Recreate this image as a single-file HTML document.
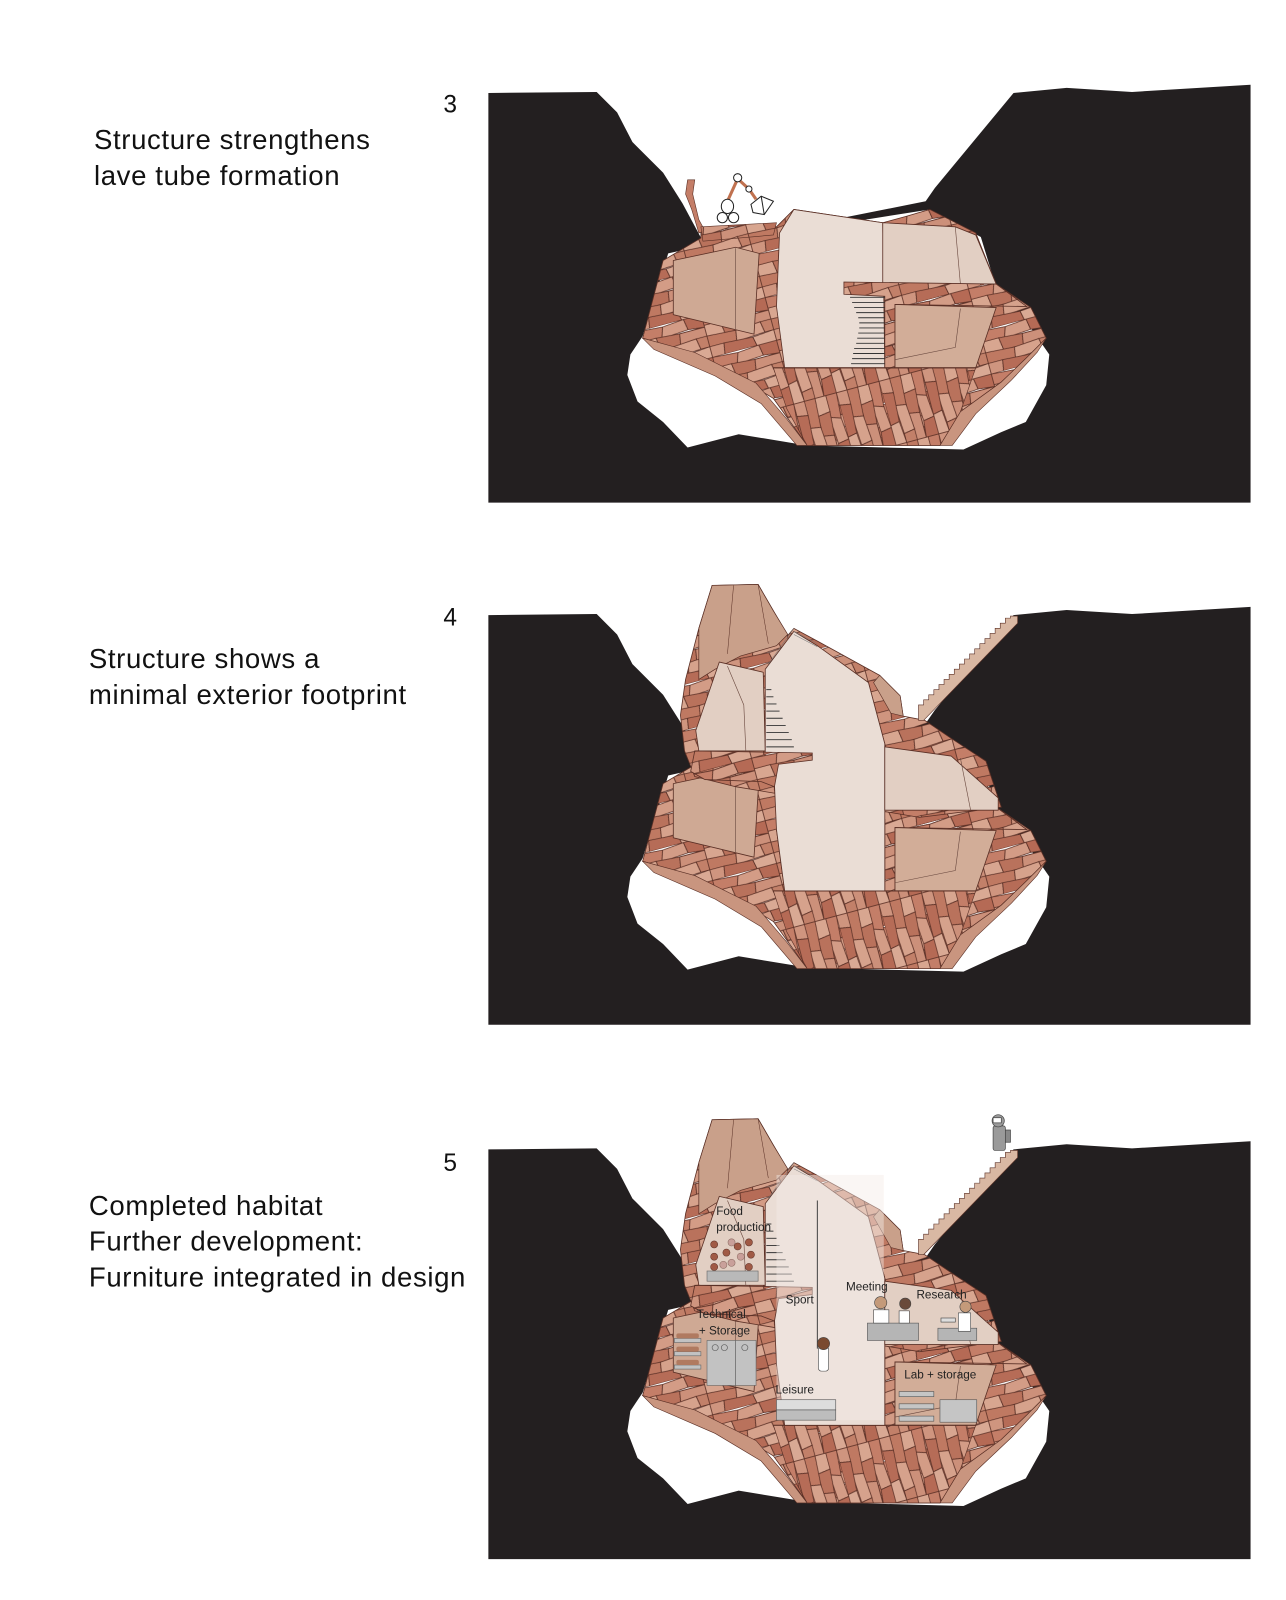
<!DOCTYPE html>
<html><head><meta charset="utf-8"><style>
html,body{margin:0;padding:0;background:#fff;}
svg{display:block;}
.t{font-family:"Liberation Sans",sans-serif;font-size:27px;letter-spacing:0.6px;fill:#111;}
.n{font-family:"Liberation Sans",sans-serif;font-size:24px;fill:#111;}
.l{font-family:"Liberation Sans",sans-serif;font-size:11.5px;fill:#222;}
</style></head><body>
<svg width="1286" height="1600" viewBox="0 0 1286 1600" xmlns="http://www.w3.org/2000/svg">
<defs>
<pattern id="st" width="36" height="24" patternUnits="userSpaceOnUse" patternTransform="rotate(-15) scale(1.8)">
<g stroke="#5b3026" stroke-width="0.45">
<polygon points="0,0 14,1 12,7 0,6" fill="#c47e68"/>
<polygon points="14,1 26,0 27,6 12,7" fill="#d39c86"/>
<polygon points="26,0 36,0 36,7 27,6" fill="#b56a55"/>
<polygon points="0,6 9,6 10,13 0,12" fill="#d8a690"/>
<polygon points="9,6 22,7 21,13 10,13" fill="#b9725c"/>
<polygon points="22,7 36,7 36,12 21,13" fill="#cc907a"/>
<polygon points="0,12 16,13 15,19 0,18" fill="#bf7962"/>
<polygon points="16,13 30,12 31,18 15,19" fill="#d6a28c"/>
<polygon points="30,12 36,12 36,18 31,18" fill="#c28069"/>
<polygon points="0,18 8,18 7,24 0,24" fill="#cf957f"/>
<polygon points="8,18 24,19 25,24 7,24" fill="#b66c57"/>
<polygon points="24,19 36,18 36,24 25,24" fill="#d9a994"/>
</g></pattern>
<pattern id="st3" width="36" height="24" patternUnits="userSpaceOnUse" patternTransform="rotate(75) scale(1.8)">
<g stroke="#5b3026" stroke-width="0.45">
<polygon points="0,0 14,1 12,7 0,6" fill="#c47e68"/>
<polygon points="14,1 26,0 27,6 12,7" fill="#d39c86"/>
<polygon points="26,0 36,0 36,7 27,6" fill="#b56a55"/>
<polygon points="0,6 9,6 10,13 0,12" fill="#d8a690"/>
<polygon points="9,6 22,7 21,13 10,13" fill="#b9725c"/>
<polygon points="22,7 36,7 36,12 21,13" fill="#cc907a"/>
<polygon points="0,12 16,13 15,19 0,18" fill="#bf7962"/>
<polygon points="16,13 30,12 31,18 15,19" fill="#d6a28c"/>
<polygon points="30,12 36,12 36,18 31,18" fill="#c28069"/>
<polygon points="0,18 8,18 7,24 0,24" fill="#cf957f"/>
<polygon points="8,18 24,19 25,24 7,24" fill="#b66c57"/>
<polygon points="24,19 36,18 36,24 25,24" fill="#d9a994"/>
</g></pattern>

<g id="ground">
<polygon fill="#231f20" points="478,91 584,90 604,110 619,139 649,169 668,199 690,240 906,197 915,184 992,91 1044,86 1108,90 1224,83 1224,492 478,492"/>
<polygon fill="#fff" points="629,329 617,347 614,367 624,393 649,413 673,438 723,425 790,436 943,440 980,423 1004,413 1024,377 1027,347 1009,321 975,281 960,232 910,205 690,240 654,248"/>
</g>

<g id="lower">
<polygon fill="url(#st)" stroke="#5b3026" stroke-width="0.8" points="686,225 760,222 777,205 864,218 886,212 910,205 955,228 975,278 1009,301 1024,331 1005,350 980,374 940,403 920,436 790,436 757,390 708,360 660,340 629,331 649,255 686,233"/>
<polygon fill="#c9957f" stroke="#5b3026" stroke-width="0.6" points="629,331 680,345 740,375 770,410 790,436 780,436 745,395 700,368 640,342"/>
<polygon fill="#c9957f" stroke="#5b3026" stroke-width="0.6" points="1024,331 1005,350 980,374 940,403 920,436 932,436 955,405 990,372 1015,345"/>
<polygon fill="url(#st3)" stroke="#5b3026" stroke-width="0.6" points="757,360 955,360 940,403 920,436 790,436 770,400"/>
<polygon fill="#cfa994" stroke="#5b3026" stroke-width="0.8" points="659,255 720,242 743,248 738,327 659,308"/>
<line x1="720" y1="243" x2="720" y2="322" stroke="#6b4a40" stroke-width="0.6"/>
<polygon fill="#eaddd5" stroke="#5b3026" stroke-width="0.8" points="763,228 777,205 864,218 866,360 768,360 760,300"/>
<polygon fill="#e2cfc3" stroke="#5b3026" stroke-width="0.8" points="864,218 935,222 955,230 975,278 864,278"/>
<line x1="935" y1="222" x2="940" y2="278" stroke="#6b4a40" stroke-width="0.6"/>
<polygon fill="url(#st)" stroke="#5b3026" stroke-width="0.8" points="826,276 975,278 1005,300 876,298 876,360 866,360 866,290 826,288"/>
<polygon fill="#d2ad98" stroke="#5b3026" stroke-width="0.8" points="876,298 975,301 955,360 876,360"/>
<polyline fill="none" stroke="#6b4a40" stroke-width="0.6" points="876,352 935,340 940,302"/>
<g stroke="#333" stroke-width="0.9">
<line x1="832" y1="291" x2="866" y2="291"/><line x1="834" y1="296" x2="866" y2="296"/>
<line x1="836" y1="301" x2="866" y2="301"/><line x1="838" y1="306" x2="866" y2="306"/>
<line x1="840" y1="311" x2="866" y2="311"/><line x1="841" y1="316" x2="866" y2="316"/>
<line x1="841" y1="321" x2="866" y2="321"/><line x1="840" y1="326" x2="866" y2="326"/>
<line x1="839" y1="331" x2="866" y2="331"/><line x1="838" y1="336" x2="866" y2="336"/>
<line x1="836" y1="341" x2="866" y2="341"/><line x1="835" y1="346" x2="866" y2="346"/>
<line x1="834" y1="351" x2="866" y2="351"/><line x1="833" y1="356" x2="866" y2="356"/>
</g>
<line x1="757" y1="360" x2="955" y2="360" stroke="#5b3026" stroke-width="1"/>
</g>

<g id="upper">
<polygon fill="url(#st)" stroke="#5b3026" stroke-width="0.8" points="671,665 684,615 697,573 742,572 771,622 777,615 801,628 861,661 881,681 884,701 905,705 930,722 965,745 980,790 900,800 720,770 680,760 670,735 666,700"/>
<polygon fill="#c9a08a" stroke="#5b3026" stroke-width="0.7" points="684,615 697,573 742,572 757,598 771,621 760,632 725,642 700,655 684,665"/>
<line x1="718" y1="573" x2="712" y2="640" stroke="#5b3026" stroke-width="0.5"/>
<line x1="742" y1="572" x2="752" y2="630" stroke="#5b3026" stroke-width="0.5"/>
<polygon fill="#c9a08a" stroke="#5b3026" stroke-width="0.6" points="861,661 881,681 884,701 872,698 855,668"/>
<polygon fill="#e2cfc3" stroke="#5b3026" stroke-width="0.8" points="704,648 747,658 749,735 684,735 681,715"/>
<polyline fill="none" stroke="#6b4a40" stroke-width="0.6" points="712,652 728,690 730,735"/>
<polygon fill="#eaddd5" stroke="#5b3026" stroke-width="0.8" points="749,655 777,618 800,632 850,668 866,728 866,872 768,872 760,812 757,745 749,740"/>
<g stroke="#777" stroke-width="0.5"><line x1="777" y1="618" x2="800" y2="630"/><line x1="777" y1="621" x2="800" y2="633"/><line x1="777" y1="615" x2="752" y2="650"/></g>
<g stroke="#333" stroke-width="0.9">
<line x1="750" y1="675" x2="755" y2="675"/><line x1="750" y1="682" x2="757" y2="682"/>
<line x1="750" y1="689" x2="760" y2="689"/><line x1="750" y1="696" x2="763" y2="696"/>
<line x1="750" y1="703" x2="766" y2="703"/><line x1="750" y1="710" x2="769" y2="710"/>
<line x1="750" y1="717" x2="772" y2="717"/><line x1="750" y1="724" x2="775" y2="724"/>
<line x1="750" y1="731" x2="777" y2="731"/>
</g>
<polygon fill="url(#st)" stroke="#5b3026" stroke-width="0.8" points="680,735 795,737 795,744 762,748 758,770 745,765 690,763 676,755"/>
<polygon fill="#e2cfc3" stroke="#5b3026" stroke-width="0.8" points="866,731 931,740 977,781 977,793 866,793"/>
<line x1="940" y1="742" x2="950" y2="793" stroke="#6b4a40" stroke-width="0.6"/>
<g fill="#d9b8a3" stroke="#5b3026" stroke-width="0.6">
<path d="M899,695 L899,690 L904,690 L904,685 L909,685 L909,680 L914,680 L914,675 L919,675 L919,670 L924,670 L924,665 L929,665 L929,660 L934,660 L934,655 L939,655 L939,650 L944,650 L944,645 L949,645 L949,640 L954,640 L954,635 L959,635 L959,630 L964,630 L964,625 L969,625 L969,620 L974,620 L974,615 L979,615 L979,610 L984,610 L984,605 L989,605 L989,603 L996,603 L996,610 L904,705 L899,705 Z"/>
</g>
</g>
</defs>

<g transform="scale(1.0217)">
<use href="#ground"/>
<use href="#lower"/>
<g stroke="#5b3026" stroke-width="0.6">
<polygon fill="#c47e68" points="673,176 680,176 678,190 684,215 690,226 684,228 677,205 671,190"/>
<polygon fill="url(#st)" points="686,222 760,218 757,230 688,236"/>
</g>
<g stroke="#222" stroke-width="1" fill="#fff">
<line x1="712" y1="197" x2="722" y2="175" stroke="#c0714f" stroke-width="3"/>
<line x1="722" y1="175" x2="733" y2="185" stroke="#c0714f" stroke-width="3"/>
<line x1="733" y1="185" x2="740" y2="195" stroke="#c0714f" stroke-width="3"/>
<ellipse cx="712" cy="202" rx="6" ry="7"/>
<circle cx="707" cy="213" r="5"/><circle cx="718" cy="213" r="5"/>
<circle cx="722" cy="174" r="4"/><circle cx="733" cy="185" r="3"/>
<polygon points="735,200 745,192 757,197 748,210 737,208"/>
<line x1="745" y1="192" x2="748" y2="210"/>
</g>
<text class="t" x="92" y="146">Structure strengthens</text>
<text class="t" x="92" y="181">lave tube formation</text>
<text class="n" x="434" y="110">3</text>

<use href="#ground" transform="translate(0,511)"/>
<use href="#lower" transform="translate(0,512)"/>
<use href="#upper"/>
<text class="t" x="87" y="654">Structure shows a</text>
<text class="t" x="87" y="689">minimal exterior footprint</text>
<text class="n" x="434" y="612">4</text>

<use href="#ground" transform="translate(0,1034)"/>
<use href="#lower" transform="translate(0,1035)"/>
<use href="#upper" transform="translate(0,523)"/>
<rect x="760" y="1150" width="105" height="240" fill="#f5ece6" opacity="0.45"/>
<line x1="800" y1="1175" x2="800" y2="1320" stroke="#444" stroke-width="1"/>
<rect x="692" y="1244" width="50" height="10" fill="#b9b9b9" stroke="#666" stroke-width="0.6"/>
<g fill="#a05a45" stroke="#5b3026" stroke-width="0.5">
<circle cx="699" cy="1218" r="3.5"/><circle cx="699" cy="1230" r="3.5"/><circle cx="699" cy="1240" r="3.5"/>
<circle cx="733" cy="1216" r="3.5"/><circle cx="735" cy="1228" r="3.5"/><circle cx="733" cy="1240" r="3.5"/>
<circle cx="711" cy="1226" r="3.5"/><circle cx="722" cy="1220" r="3.5"/>
</g>
<g fill="#c9a09a" stroke="#8a6a60" stroke-width="0.5">
<circle cx="716" cy="1216" r="3.5"/><circle cx="716" cy="1236" r="3.5"/><circle cx="725" cy="1230" r="3.5"/><circle cx="708" cy="1238" r="3.5"/>
</g>
<g fill="#c2c2c2" stroke="#666" stroke-width="0.6">
<rect x="692" y="1312" width="28" height="44"/><rect x="720" y="1312" width="20" height="44"/>
<rect x="660" y="1310" width="26" height="4"/><rect x="660" y="1323" width="26" height="4"/><rect x="660" y="1336" width="26" height="4"/>
</g>
<g fill="#b07a60"><rect x="662" y="1305" width="22" height="5" rx="2"/><rect x="662" y="1318" width="22" height="5" rx="2"/><rect x="662" y="1331" width="22" height="5" rx="2"/></g>
<g fill="none" stroke="#666" stroke-width="0.7"><circle cx="700" cy="1319" r="3"/><circle cx="709" cy="1319" r="3"/><circle cx="729" cy="1319" r="3"/></g>
<rect x="849" y="1295" width="50" height="17" fill="#b5b5b5" stroke="#555" stroke-width="0.6"/>
<rect x="918" y="1300" width="38" height="12" fill="#b5b5b5" stroke="#555" stroke-width="0.6"/>
<g stroke="#444" stroke-width="0.6">
<rect x="855" y="1282" width="15" height="13" fill="#fff"/><circle cx="862" cy="1275" r="6" fill="#c49a7a"/>
<rect x="880" y="1283" width="10" height="12" fill="#fff"/><circle cx="886" cy="1276" r="5.5" fill="#6a4a3a"/>
<rect x="938" y="1285" width="12" height="18" fill="#fff"/><circle cx="945" cy="1279" r="5.5" fill="#c49a7a"/>
<rect x="921" y="1290" width="14" height="4" fill="#ddd"/>
</g>
<g stroke="#444" stroke-width="0.6"><rect x="801" y="1318" width="10" height="24" rx="3" fill="#fff"/><circle cx="806" cy="1315" r="6" fill="#7a4a30"/></g>
<g fill="#ddd" stroke="#555" stroke-width="0.6"><rect x="760" y="1370" width="58" height="10"/><rect x="760" y="1380" width="58" height="10" fill="#bdbdbd"/></g>
<g fill="#c5c5c5" stroke="#555" stroke-width="0.6">
<rect x="880" y="1362" width="34" height="5"/><rect x="880" y="1374" width="34" height="5"/><rect x="880" y="1386" width="34" height="5"/>
<rect x="920" y="1370" width="36" height="22"/>
</g>
<text class="l" x="701" y="1189">Food</text>
<text class="l" x="701" y="1205">production</text>
<text class="l" x="769" y="1276">Sport</text>
<text class="l" x="682" y="1290">Technical</text>
<text class="l" x="684" y="1306">+ Storage</text>
<text class="l" x="828" y="1263">Meeting</text>
<text class="l" x="897" y="1271">Research</text>
<text class="l" x="759" y="1364">Leisure</text>
<text class="l" x="885" y="1349">Lab + storage</text>
<g stroke="#444" stroke-width="0.7">
<rect x="972" y="1102" width="12" height="24" rx="2" fill="#9a9a9a"/>
<circle cx="977" cy="1097" r="6" fill="#9a9a9a"/>
<rect x="972" y="1094" width="8" height="5" fill="#fff"/>
<rect x="984" y="1106" width="5" height="12" fill="#888"/>
</g>
<text class="t" x="87" y="1189">Completed habitat</text>
<text class="t" x="87" y="1224">Further development:</text>
<text class="t" x="87" y="1259">Furniture integrated in design</text>
<text class="n" x="434" y="1146">5</text>
</g>
</svg>
</body></html>
